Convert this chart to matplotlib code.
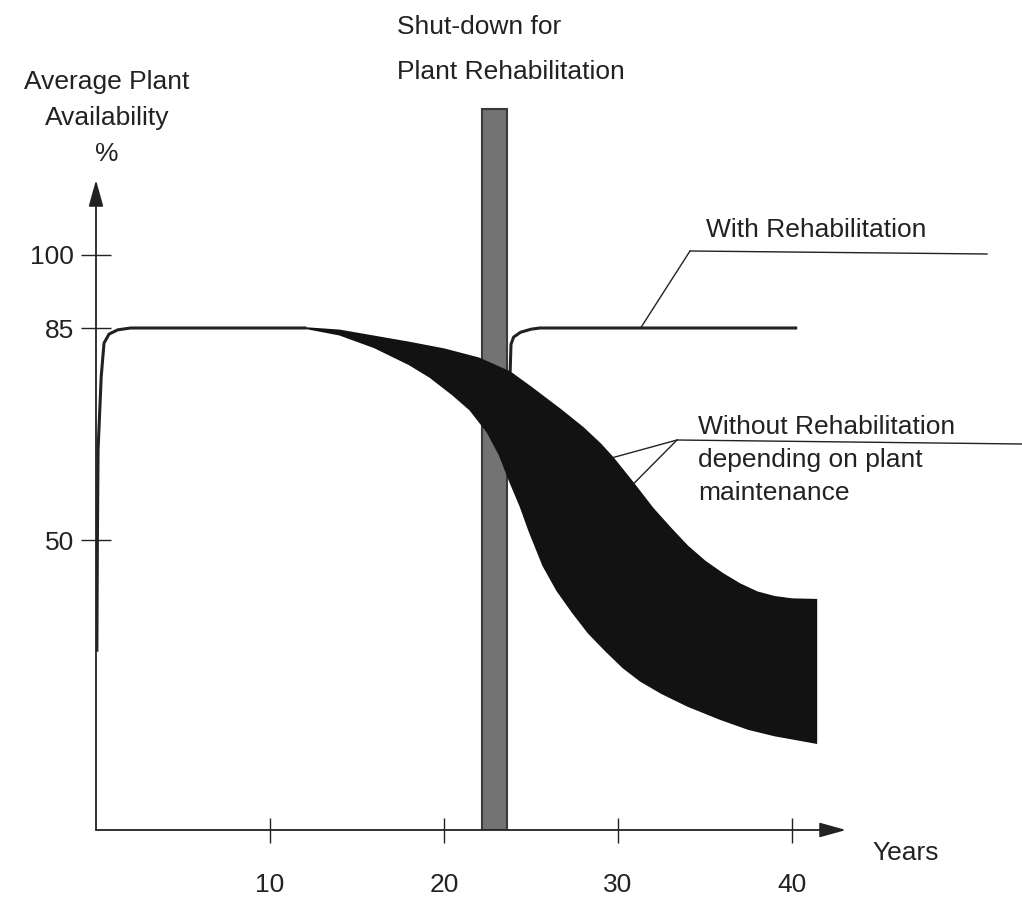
import numpy as np
import matplotlib.pyplot as plt
from matplotlib.lines import Line2D
from matplotlib.patches import Polygon

# Start-up ramp and plateau (years, availability %)
ramp_years = [0.05, 0.08, 0.12, 0.3, 0.46, 0.75, 1.25, 2.0, 12.0]
ramp_avail = [31.0, 50.0, 65.0, 77.0, 82.5, 84.0, 84.7, 85.0, 85.0]

# Without rehabilitation: upper and lower edge of the band
upper_years = [12.0, 14.0, 16.0, 18.0, 20.0, 22.0, 23.8, 25.0, 26.7, 28.0,
               29.0, 29.7, 30.9, 32.0, 33.0, 34.0, 35.0, 36.0, 37.0, 38.0,
               39.0, 40.0, 41.4]
upper_avail = [85.0, 84.6, 83.6, 82.6, 81.5, 80.0, 77.7, 75.2, 71.5, 68.5,
               65.8, 63.6, 59.3, 55.2, 52.0, 48.9, 46.3, 44.2, 42.4, 41.0,
               40.2, 39.8, 39.7]
lower_years = [12.0, 14.0, 16.0, 18.0, 19.2, 20.5, 21.5, 22.5, 23.2, 23.8,
               24.4, 24.9, 25.7, 26.5, 27.4, 28.3, 29.3, 30.3, 31.3, 32.5,
               34.0, 35.9, 37.5, 39.0, 41.4]
lower_avail = [85.0, 83.9, 81.8, 79.0, 76.9, 74.0, 71.5, 67.8, 64.0, 59.6,
               55.5, 51.5, 45.6, 41.3, 37.5, 34.0, 30.9, 28.0, 25.7, 23.6,
               21.4, 19.1, 17.4, 16.3, 15.0]

# With rehabilitation
rehab_years = [23.8, 23.85, 24.0, 24.4, 25.0, 25.5, 40.3]
rehab_avail = [77.7, 82.3, 83.5, 84.3, 84.8, 85.0, 85.0]

# Shut-down period
shutdown_start, shutdown_end, shutdown_top = 22.2, 23.6, 130

x_ticks = [10, 20, 30, 40]
y_ticks = [50, 85, 100]

# the drawn y axis is not evenly spaced: value -> pixel height
y_knot_val = [0, 50, 85, 100, 140]
y_knot_px = [0, 290, 502, 575, 770]


def fwd(v):
    return np.interp(v, y_knot_val, y_knot_px)


def inv(p):
    return np.interp(p, y_knot_px, y_knot_val)


plt.rcParams['font.family'] = ['Liberation Sans', 'DejaVu Sans']
INK = '#222222'
FS = 19
W, H = 1022, 901
fig = plt.figure(figsize=(W / 100, H / 100), dpi=100)


def fpx(x, y):
    return (x / W, 1 - y / H)


# axes box in pixels: origin (96, 830), x arrow tip at 846,
# top kept high enough for the shut-down bar (y arrow tip at 180)
x0, y0, x1, y1 = 96, 830, 846, 100
y_arrow_px = 180
rect = [x0 / W, 1 - y0 / H, (x1 - x0) / W, (y0 - y1) / H]


def setup(a):
    a.set_xlim(0, (x1 - x0) / 17.4)
    a.set_yscale('function', functions=(fwd, inv))
    a.set_ylim(0, inv(y0 - y1))
    a.patch.set_visible(False)
    for s in a.spines.values():
        s.set_visible(False)


ax = fig.add_axes(rect)
setup(ax)

# axis lines with arrow heads
arrow = dict(arrowstyle='-|>,head_length=0.9,head_width=0.25',
             mutation_scale=18, lw=1.3, color=INK, shrinkA=0, shrinkB=0)
ax.annotate('', xy=(1, 0), xytext=(0, 0), xycoords='axes fraction',
            arrowprops=arrow)
ax.annotate('', xy=(0, inv(y0 - y_arrow_px)), xytext=(0, 0),
            xycoords=ax.get_yaxis_transform(), arrowprops=arrow)

ax.set_xticks(x_ticks)
ax.set_xticklabels([str(t) for t in x_ticks])
ax.set_yticks(y_ticks)
ax.set_yticklabels([str(t) for t in y_ticks])
ax.minorticks_off()
ax.tick_params(axis='x', direction='inout', length=18, width=1, pad=22,
               labelsize=FS, colors=INK)
ax.tick_params(axis='y', direction='inout', length=22, width=1, pad=5,
               labelsize=FS, colors=INK)

# rehab curve, then the shut-down bar over its start
ax.plot(rehab_years, rehab_avail, color=INK, lw=2.2, solid_capstyle='butt')
ax.bar((shutdown_start + shutdown_end) / 2, shutdown_top,
       width=shutdown_end - shutdown_start, bottom=0,
       color='#737373', edgecolor='#3a3a3a', lw=1.5)

# overlay axes so the band sits on top of the bar
top = fig.add_axes(rect)
setup(top)
top.set_xticks([])
top.set_yticks([])
band_xy = np.column_stack([np.r_[upper_years, lower_years[::-1]],
                           np.r_[upper_avail, lower_avail[::-1]]])
top.add_patch(Polygon(band_xy, closed=True, facecolor='#121212',
                      edgecolor='#121212', lw=1.2))
top.plot(ramp_years, ramp_avail, color=INK, lw=2.2)

# texts
fig.text(*fpx(107, 118), 'Average Plant\nAvailability\n%', ha='center',
         va='center', multialignment='center', linespacing=1.62,
         fontsize=FS, color=INK)
fig.text(*fpx(397, 27), 'Shut-down for', ha='left', va='center',
         fontsize=FS, color=INK)
fig.text(*fpx(397, 72), 'Plant Rehabilitation', ha='left', va='center',
         fontsize=FS, color=INK)
fig.text(*fpx(706, 230), 'With Rehabilitation', ha='left', va='center',
         fontsize=FS, color=INK)
for txt, yy in [('Without Rehabilitation', 427), ('depending on plant', 460),
                ('maintenance', 493)]:
    fig.text(*fpx(698, yy), txt, ha='left', va='center', fontsize=FS,
             color=INK)
fig.text(*fpx(872, 853), 'Years', ha='left', va='center', fontsize=FS,
         color=INK)

# leader lines
leader = dict(arrowstyle='-', lw=1, color=INK, shrinkA=0, shrinkB=0)
fig.add_artist(Line2D([690 / W, 987 / W], [1 - 251 / H, 1 - 254 / H],
                      lw=1, color=INK))
top.annotate('', xy=(31.3, rehab_avail[-1]), xycoords='data',
             xytext=fpx(690, 251), textcoords='figure fraction',
             arrowprops=leader)
fig.add_artist(Line2D([677 / W, 1022 / W], [1 - 440 / H, 1 - 444 / H],
                      lw=1, color=INK))
for i in (11, 12):
    top.annotate('', xy=(upper_years[i], upper_avail[i]), xycoords='data',
                 xytext=fpx(677, 440), textcoords='figure fraction',
                 arrowprops=leader)

fig.savefig('out.png', dpi=100)
